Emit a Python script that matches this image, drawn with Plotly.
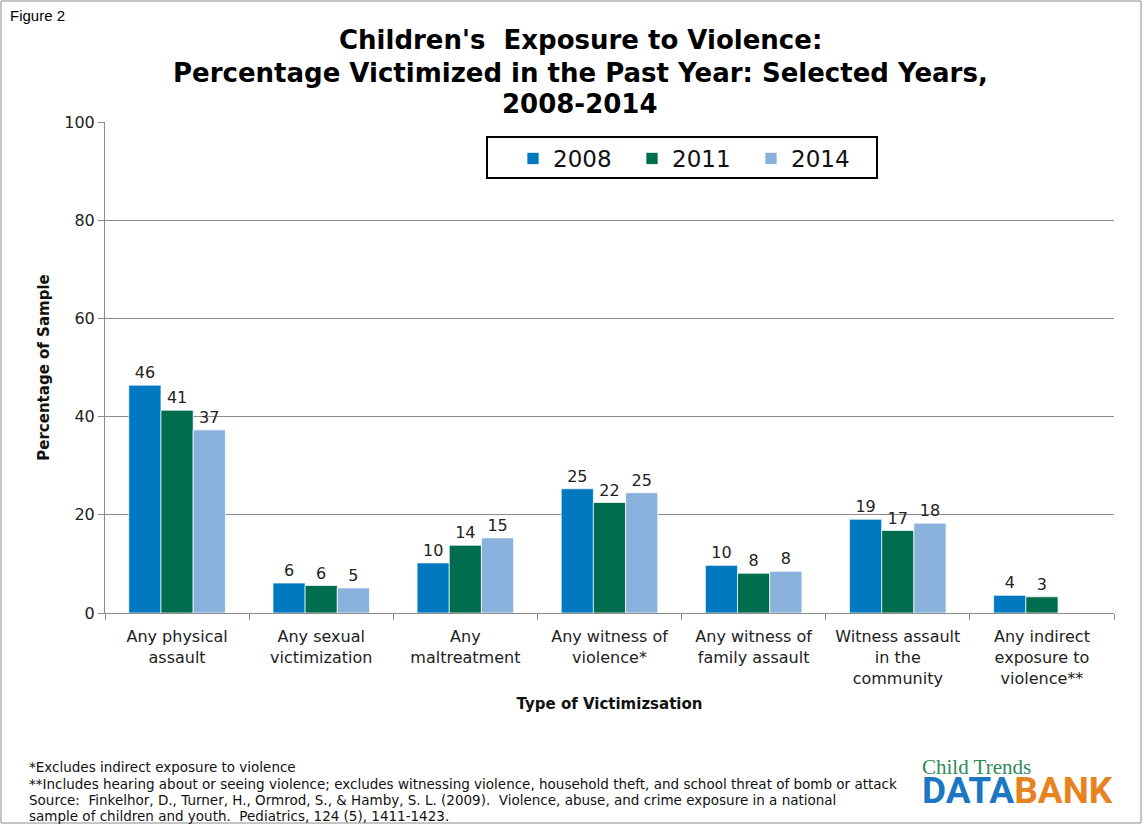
import plotly.graph_objects as go

categories = [
    "Any physical<br>assault",
    "Any sexual<br>victimization",
    "Any<br>maltreatment",
    "Any witness of<br>violence*",
    "Any witness of<br>family assault",
    "Witness assault<br>in the<br>community",
    "Any indirect<br>exposure to<br>violence**",
]
years = ["2008", "2011", "2014"]
values_2008 = [46.4, 6.1, 10.2, 25.3, 9.7, 19.1, 3.6]
values_2011 = [41.3, 5.6, 13.8, 22.5, 8.1, 16.8, 3.3]
values_2014 = [37.3, 5.1, 15.3, 24.5, 8.5, 18.3, None]
labels_2008 = ["46", "6", "10", "25", "10", "19", "4"]
labels_2011 = ["41", "6", "14", "22", "8", "17", "3"]
labels_2014 = ["37", "5", "15", "25", "8", "18", ""]
colors = ["#0079C1", "#006E4E", "#8AB1DC"]

FONT = "Verdana, DejaVu Sans, sans-serif"

fig = go.Figure()
for name, vals, labs, col in zip(years, [values_2008, values_2011, values_2014],
                                 [labels_2008, labels_2011, labels_2014], colors):
    fig.add_trace(go.Bar(
        name=name, x=categories, y=vals, text=labs,
        textposition="outside", cliponaxis=False,
        textfont=dict(family=FONT, size=16, color="#222222"),
        marker=dict(color=col, line=dict(color="rgba(255,255,255,0.7)", width=1)),
    ))

# plot area geometry (pixels): x 105..1114, y 122..613
L, R, T, B = 105, 1114, 122, 613
W, H = R - L, B - T
def px(x):
    return (x - L) / W
def py(y):
    return (B - y) / H

fig.update_layout(
    width=1144, height=824,
    margin=dict(l=L, r=1144 - R, t=T, b=824 - B, autoexpand=False),
    paper_bgcolor="white", plot_bgcolor="white",
    barmode="group", bargap=0.33, bargroupgap=0,
    font=dict(family=FONT, color="#222222"),
    showlegend=True,
    legend=dict(
        orientation="h", x=px(513), y=py(137), xanchor="left", yanchor="top",
        borderwidth=0, bgcolor="rgba(0,0,0,0)",
        font=dict(family=FONT, size=23, color="#111111"),
        entrywidth=74, entrywidthmode="pixels",
        traceorder="normal",
    ),
    xaxis=dict(
        type="category", showline=True, linecolor="#8c8c8c", linewidth=1,
        ticks="outside", tickson="boundaries", ticklen=6, tickcolor="#8c8c8c",
        ticklabelstandoff=9,
        tickfont=dict(family=FONT, size=16, color="#222222"),
        title=dict(text="<b>Type of Victimizsation</b>", standoff=11,
                   font=dict(family=FONT, size=15, color="#111111")),
        showgrid=False,
    ),
    yaxis=dict(
        range=[0, 100], dtick=20, showline=True, linecolor="#8c8c8c", linewidth=1,
        ticks="outside", ticklen=6, tickcolor="#8c8c8c",
        showgrid=True, gridcolor="#8c8c8c", gridwidth=1, zeroline=False,
        tickfont=dict(family=FONT, size=16, color="#222222"),
        title=dict(text="<b>Percentage of Sample</b>", standoff=11,
                   font=dict(family=FONT, size=15, color="#111111")),
    ),
)

# legend frame
fig.add_shape(type="rect", xref="paper", yref="paper",
              x0=px(487), x1=px(877), y0=py(178), y1=py(137),
              line=dict(color="black", width=2), fillcolor="white", layer="above")

title_lines = [
    ("Children's&nbsp; Exposure to Violence:", 40),
    ("Percentage Victimized in the Past Year: Selected Years,", 73),
    ("2008-2014", 104),
]
for txt, yc in title_lines:
    fig.add_annotation(text=f"<b>{txt}</b>", xref="paper", yref="paper",
                       x=px(580), y=py(yc), xanchor="center", yanchor="middle",
                       showarrow=False, font=dict(family=FONT, size=26, color="#000000"))

fig.add_annotation(text="Figure 2", xref="paper", yref="paper",
                   x=px(8), y=py(16), xanchor="left", yanchor="middle", showarrow=False,
                   font=dict(family="Arial, Liberation Sans, sans-serif", size=15, color="#000000"))

footnotes = [
    "*Excludes indirect exposure to violence",
    "**Includes hearing about or seeing violence; excludes witnessing violence, household theft, and school threat of bomb or attack",
    "Source:  Finkelhor, D., Turner, H., Ormrod, S., & Hamby, S. L. (2009).  Violence, abuse, and crime exposure in a national",
    "sample of children and youth.  Pediatrics, 124 (5), 1411-1423.",
]
foot_y = [767, 783.5, 800, 816]
for txt, yc in zip(footnotes, foot_y):
    fig.add_annotation(text=txt.replace("  ", "&nbsp; "), xref="paper", yref="paper",
                       x=px(27), y=py(yc), xanchor="left", yanchor="middle", align="left",
                       showarrow=False, font=dict(family=FONT, size=13.5, color="#111111"))

# logo: one two-line text block
logo = ("<span style='font-family:Liberation Serif, DejaVu Serif, serif;font-size:21px;color:#2E8A57'>Child Trends</span>"
        "<br><b><span style='font-size:37px;color:#1C78C2'>DATA</span>"
        "<span style='font-size:37px;color:#E8821E'>BANK</span></b>")
fig.add_annotation(text=logo, xref="paper", yref="paper",
                   x=px(920), y=py(784), xanchor="left", yanchor="middle", align="left",
                   showarrow=False,
                   font=dict(family="Roboto, Liberation Sans, sans-serif", size=22))

fig.add_shape(type="rect", xref="paper", yref="paper",
              x0=px(1), x1=px(1141), y0=py(1), y1=py(823),
              line=dict(color="#8c8c8c", width=1), fillcolor="rgba(0,0,0,0)", layer="below")

fig.write_html("out.html")
